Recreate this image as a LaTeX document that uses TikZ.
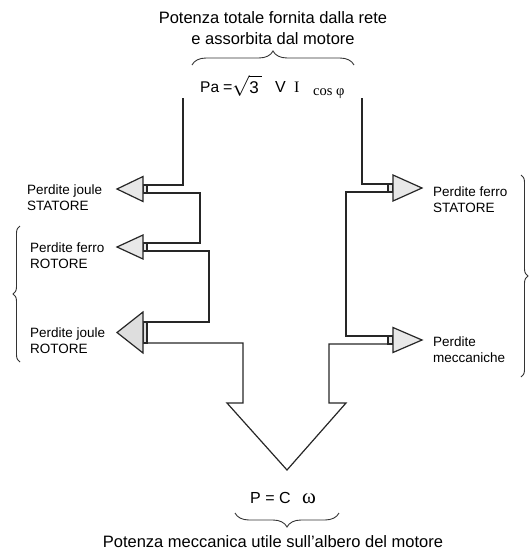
\documentclass[tikz,border=0pt]{standalone}
\usepackage{fontspec}
\setmainfont{Liberation Sans}
\newfontfamily\serifface{Liberation Serif}
\usetikzlibrary{decorations.pathreplacing}

\tikzset{
  flow/.style={draw=black!85, line width=1.2pt, line join=miter},
  headshape/.style={flow, fill=black!9},
  lbl/.style={anchor=base west, inner sep=0pt, align=left,
              font=\fontsize{13.5}{16}\selectfont},
  capt/.style={anchor=base, inner sep=0pt, align=center,
               font=\fontsize{16.5}{21}\selectfont},
  frm/.style={anchor=base west, inner sep=0pt, font=\fontsize{16}{16}\selectfont},
  brc/.style={draw=black!80, line width=0.9pt, decorate,
              decoration={brace, amplitude=#1}},
}

\begin{document}
\begin{tikzpicture}[x=1pt,y=-1pt]
\useasboundingbox (0,0) rectangle (529,555);

% ---- captions -------------------------------------------------------
\node[capt] (top1) at (273,23) {Potenza totale fornita dalla rete};
\node[capt] (top2) at (273,44) {e assorbita dal motore};
\draw[brc=14] (192,65) -- (354,65);

% ---- absorbed power formula -------------------------------------------
\node[frm, font=\fontsize{15.5}{15.5}\selectfont] (pa) at (200,92) {Pa};
\node[frm] (eq) at (223,92) {=};
\node[frm, font=\fontsize{20}{20}\selectfont] (rt) at (232,93) {$\sqrt{\mbox{\fontsize{17}{17}\selectfont 3\,}}$};
\node[frm] (vv) at (275,92) {V};
\node[frm, font=\serifface\fontsize{16}{16}\selectfont] (ii) at (294,92) {I};
\node[frm, font=\serifface\fontsize{14.5}{14.5}\selectfont] (cs) at (313,95) {cos φ};

% ---- left branch: losses leaving towards the left --------------------
\draw[flow] (183,98) -- (183,185) -- (147,185);
\draw[flow] (147,193) -- (200,193) -- (200,243) -- (147,243);
\draw[flow] (147,251) -- (209,251) -- (209,322) -- (147,322);

% arrow heads (left)
\draw[headshape] (143,185) rectangle (147,193);
\draw[headshape] (143,176.5) -- (117,189) -- (143,201.5) -- cycle;
\draw[headshape] (143,243) rectangle (147,251);
\draw[headshape] (143,235) -- (117,247) -- (143,259) -- cycle;
\draw[headshape, fill=black!13] (143,322) rectangle (147,343);
\draw[headshape, fill=black!13] (143,312) -- (117,332.5) -- (143,353) -- cycle;

% ---- right branch: losses leaving towards the right ------------------
\draw[flow] (362,98) -- (362,184) -- (388,184);
\draw[flow] (388,192) -- (346,192) -- (346,336) -- (388,336);

\draw[headshape] (388,184) rectangle (393,192);
\draw[headshape] (393,175) -- (422,188) -- (393,201) -- cycle;
\draw[headshape] (388,336) rectangle (393,344);
\draw[headshape] (393,327.5) -- (422,340) -- (393,352.5) -- cycle;

% ---- remaining useful power: big arrow -------------------------------
\draw[flow] (147,343) -- (243,343) -- (243,403) -- (227,403)
            -- (287,470) -- (346,403) -- (329,403) -- (329,344) -- (388,344);

% ---- loss labels (anchored on the baseline of the second line) -------
\node[lbl] (js) at (27,210) {Perdite joule\\STATORE};
\node[lbl] (fr) at (30,268) {Perdite ferro\\ROTORE};
\node[lbl] (jr) at (30,353) {Perdite joule\\ROTORE};
\node[lbl] (fs) at (433,212) {Perdite ferro\\STATORE};
\node[lbl] (pm) at (433,362) {Perdite\\meccaniche};

% group braces
\draw[brc=7] (20,362) -- (20,226);
\draw[brc=7] (521,175) -- (521,377);

% ---- mechanical output ----------------------------------------------
\node[frm] (pp) at (250,503) {P = C};
\node[frm, font=\serifface\fontsize{21}{21}\selectfont] (om) at (302,503) {ω};
\draw[brc=14] (339,513) -- (235,513);
\node[capt] (bot) at (273,547) {Potenza meccanica utile sull’albero del motore};
\end{tikzpicture}
\end{document}
